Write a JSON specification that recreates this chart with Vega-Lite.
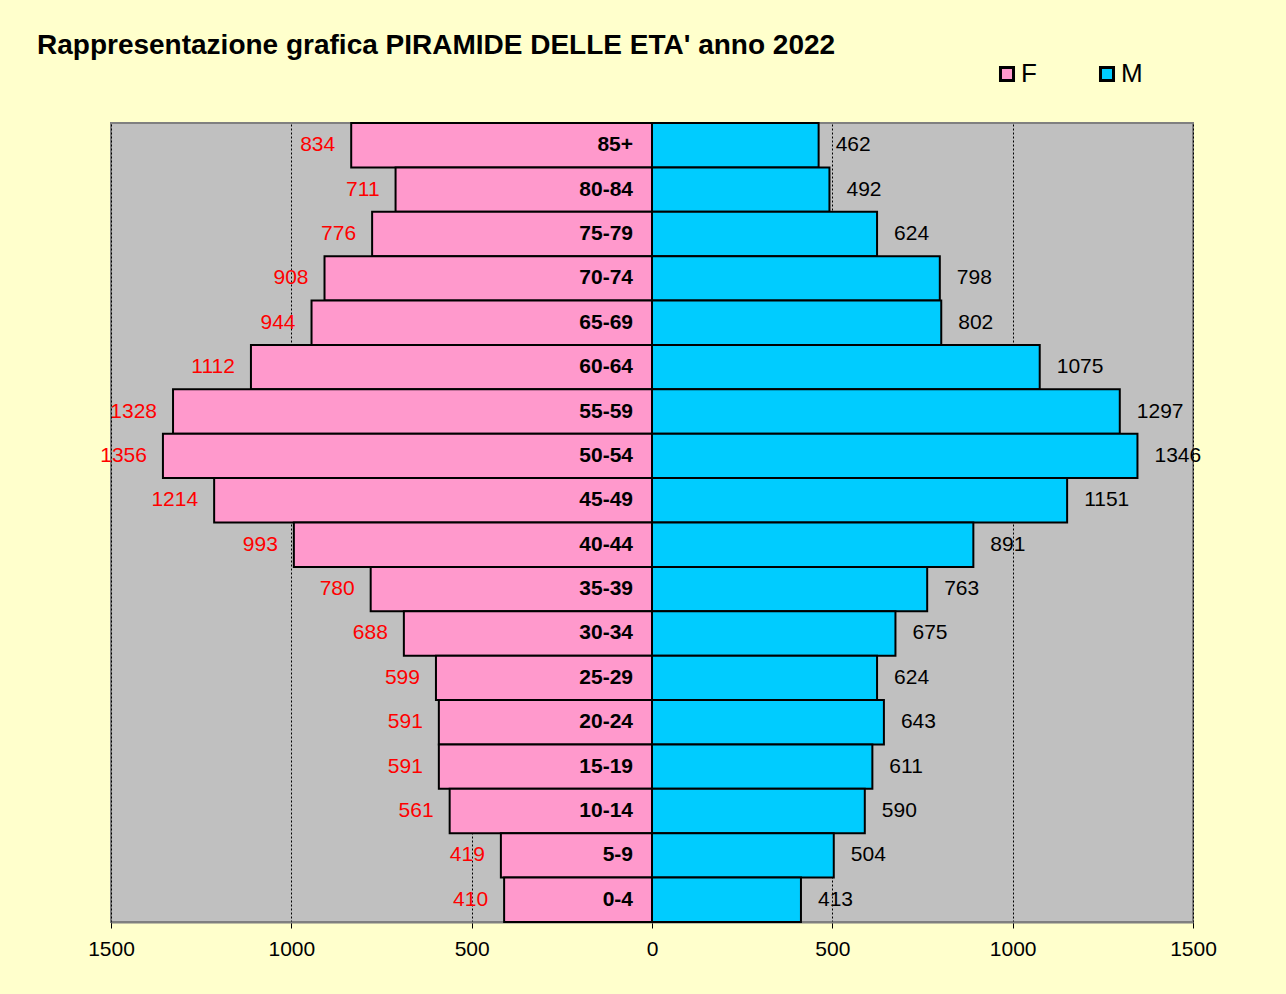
{
  "$schema": "https://vega.github.io/schema/vega-lite/v6.json",
  "autosize": {"type": "none"},
  "width": 1082,
  "height": 799,
  "padding": {"left": 111, "top": 123, "right": 93, "bottom": 72},
  "background": "#FFFFCC",
  "config": {
    "font": "Liberation Sans",
    "view": {"fill": "#C0C0C0", "stroke": "#808080", "strokeWidth": 2}
  },
  "title": {
    "text": "Rappresentazione grafica PIRAMIDE DELLE ETA' anno 2022",
    "anchor": "start",
    "frame": "group",
    "dx": -74,
    "dy": 27,
    "offset": 6,
    "baseline": "alphabetic",
    "fontSize": 28,
    "fontWeight": "bold",
    "font": "Liberation Sans",
    "color": "black"
  },
  "data": {
    "values": [
      {"age": "85+", "F": 834, "M": 462},
      {"age": "80-84", "F": 711, "M": 492},
      {"age": "75-79", "F": 776, "M": 624},
      {"age": "70-74", "F": 908, "M": 798},
      {"age": "65-69", "F": 944, "M": 802},
      {"age": "60-64", "F": 1112, "M": 1075},
      {"age": "55-59", "F": 1328, "M": 1297},
      {"age": "50-54", "F": 1356, "M": 1346},
      {"age": "45-49", "F": 1214, "M": 1151},
      {"age": "40-44", "F": 993, "M": 891},
      {"age": "35-39", "F": 780, "M": 763},
      {"age": "30-34", "F": 688, "M": 675},
      {"age": "25-29", "F": 599, "M": 624},
      {"age": "20-24", "F": 591, "M": 643},
      {"age": "15-19", "F": 591, "M": 611},
      {"age": "10-14", "F": 561, "M": 590},
      {"age": "5-9", "F": 419, "M": 504},
      {"age": "0-4", "F": 410, "M": 413}
    ]
  },
  "encoding": {
    "y": {
      "field": "age",
      "type": "nominal",
      "sort": ["85+", "80-84", "75-79", "70-74", "65-69", "60-64", "55-59", "50-54", "45-49", "40-44", "35-39", "30-34", "25-29", "20-24", "15-19", "10-14", "5-9", "0-4"],
      "scale": {"paddingInner": 0, "paddingOuter": 0},
      "axis": null
    }
  },
  "layer": [
    {
      "mark": {"type": "bar", "stroke": "black", "strokeWidth": 2},
      "encoding": {
        "x": {
          "field": "M",
          "type": "quantitative",
          "scale": {"domain": [-1500, 1500], "nice": false, "zero": false},
          "axis": {
            "title": null,
            "values": [-1500, -1000, -500, 0, 500, 1000, 1500],
            "labelExpr": "abs(datum.value)",
            "labelFlush": false,
            "labelFontSize": 21,
            "labelColor": "black",
            "labelFont": "Liberation Sans",
            "labelPadding": 10,
            "tickColor": "black",
            "tickSize": 6,
            "domainColor": "#808080",
            "domainWidth": 2,
            "grid": true,
            "gridColor": "black",
            "gridDash": [2, 2],
            "gridWidth": 1,
            "gridOpacity": 1
          }
        },
        "x2": {"datum": 0},
        "color": {
          "datum": "M",
          "type": "nominal",
          "scale": {"domain": ["F", "M"], "range": ["#FF99CC", "#00CCFF"]},
          "legend": {
            "title": null,
            "orient": "none",
            "direction": "horizontal",
            "legendX": 883,
            "legendY": -62,
            "symbolType": "square",
            "symbolSize": 170,
            "symbolStrokeColor": "black",
            "symbolStrokeWidth": 3,
            "symbolOpacity": 1,
            "labelFontSize": 26,
            "labelFont": "Liberation Sans",
            "labelColor": "black",
            "labelOffset": 1,
            "columnPadding": 57
          }
        }
      }
    },
    {
      "mark": {"type": "bar", "stroke": "black", "strokeWidth": 2},
      "encoding": {
        "x": {
          "field": "F",
          "type": "quantitative",
          "scale": {"domain": [-1500, 1500], "reverse": true, "nice": false, "zero": false},
          "axis": null
        },
        "x2": {"datum": 0},
        "color": {"datum": "F", "type": "nominal"}
      }
    },
    {
      "mark": {"type": "text", "align": "right", "baseline": "middle", "dx": -16, "fontSize": 21, "font": "Liberation Sans", "color": "#FF0000"},
      "encoding": {
        "x": {
          "field": "F",
          "type": "quantitative",
          "scale": {"domain": [-1500, 1500], "reverse": true, "nice": false, "zero": false},
          "axis": null
        },
        "text": {"field": "F", "type": "quantitative"}
      }
    },
    {
      "mark": {"type": "text", "align": "left", "baseline": "middle", "dx": 17, "fontSize": 21, "font": "Liberation Sans", "color": "black"},
      "encoding": {
        "x": {
          "field": "M",
          "type": "quantitative",
          "scale": {"domain": [-1500, 1500], "nice": false, "zero": false},
          "axis": null
        },
        "text": {"field": "M", "type": "quantitative"}
      }
    },
    {
      "mark": {"type": "text", "align": "right", "baseline": "middle", "dx": -19, "fontSize": 21, "fontWeight": "bold", "font": "Liberation Sans", "color": "black"},
      "encoding": {
        "x": {
          "datum": 0,
          "type": "quantitative",
          "scale": {"domain": [-1500, 1500], "nice": false, "zero": false},
          "axis": null
        },
        "text": {"field": "age", "type": "nominal"}
      }
    }
  ],
  "resolve": {"scale": {"x": "independent"}, "axis": {"x": "independent"}}
}
